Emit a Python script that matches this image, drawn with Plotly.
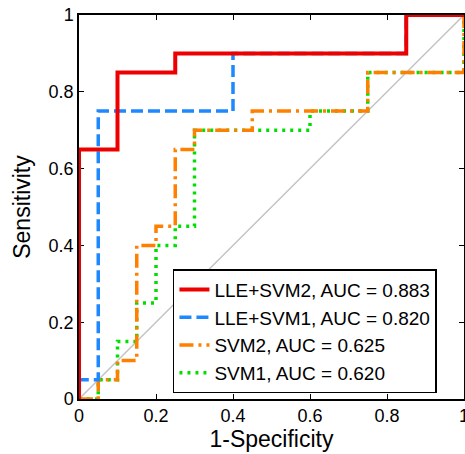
import plotly.graph_objects as go

# ROC curve data (1-Specificity, Sensitivity)
lle_svm2_fpr = [0, 0, 0.1, 0.1, 0.25, 0.25, 0.85, 0.85, 1]
lle_svm2_tpr = [0, 0.65, 0.65, 0.85, 0.85, 0.9, 0.9, 1, 1]

lle_svm1_fpr = [0, 0, 0.05, 0.05, 0.4, 0.4, 0.85, 0.85, 1]
lle_svm1_tpr = [0, 0.05, 0.05, 0.75, 0.75, 0.9, 0.9, 1, 1]

svm2_fpr = [0, 0.05, 0.05, 0.1, 0.1, 0.15, 0.15, 0.2, 0.2, 0.25, 0.25, 0.3, 0.3, 0.45, 0.45, 0.75, 0.75, 1, 1]
svm2_tpr = [0, 0, 0.05, 0.05, 0.1, 0.1, 0.4, 0.4, 0.45, 0.45, 0.65, 0.65, 0.7, 0.7, 0.75, 0.75, 0.85, 0.85, 1]

svm1_fpr = [0, 0.05, 0.05, 0.1, 0.1, 0.15, 0.15, 0.2, 0.2, 0.25, 0.25, 0.3, 0.3, 0.6, 0.6, 0.75, 0.75, 1, 1]
svm1_tpr = [0, 0, 0.05, 0.05, 0.15, 0.15, 0.25, 0.25, 0.4, 0.4, 0.45, 0.45, 0.7, 0.7, 0.75, 0.75, 0.85, 0.85, 1]

chance_x = [0, 1]
chance_y = [0, 1]

names = ["LLE+SVM2, AUC = 0.883", "LLE+SVM1, AUC = 0.820", "SVM2, AUC = 0.625", "SVM1, AUC = 0.620"]
tick_vals = [0, 0.2, 0.4, 0.6, 0.8, 1]
tick_text = ["0", "0.2", "0.4", "0.6", "0.8", "1"]

FONT = "Liberation Sans, Arial, sans-serif"

fig = go.Figure()
fig.add_trace(go.Scatter(x=chance_x, y=chance_y, mode="lines",
                         line=dict(color="#c3c3c3", width=1.5),
                         showlegend=False, hoverinfo="skip", cliponaxis=False))
fig.add_trace(go.Scatter(x=svm1_fpr, y=svm1_tpr, mode="lines", name=names[3],
                         line=dict(color="#00e000", width=3.5, dash="3px,5px"), cliponaxis=False))
fig.add_trace(go.Scatter(x=svm2_fpr, y=svm2_tpr, mode="lines", name=names[2],
                         line=dict(color="#ff8000", width=3.5, dash="14px,5px,3px,5px"), cliponaxis=False))
fig.add_trace(go.Scatter(x=lle_svm1_fpr, y=lle_svm1_tpr, mode="lines", name=names[1],
                         line=dict(color="#1e88ff", width=3.5, dash="12px,5px"), cliponaxis=False))
fig.add_trace(go.Scatter(x=lle_svm2_fpr, y=lle_svm2_tpr, mode="lines", name=names[0],
                         line=dict(color="#ee0000", width=4), cliponaxis=False))

axis_common = dict(
    range=[0, 1], tickvals=tick_vals, ticktext=tick_text,
    ticks="inside", ticklen=5, tickwidth=1, tickcolor="black",
    showline=True, linecolor="black", linewidth=1.5, mirror="allticks",
    showgrid=False, zeroline=False, layer="below traces", automargin=False,
    ticklabeloverflow="allow",
    tickfont=dict(family=FONT, size=18, color="black"),
)

fig.update_layout(
    width=465, height=454,
    margin=dict(l=79, r=1, t=15, b=55),
    paper_bgcolor="white", plot_bgcolor="white",
    font=dict(family=FONT, color="black"),
    xaxis=dict(axis_common, title=dict(text="1-Specificity", font=dict(family=FONT, size=23), standoff=6)),
    yaxis=dict(axis_common, title=dict(text="Sensitivity", font=dict(family=FONT, size=23), standoff=12)),
    legend=dict(
        x=0.244, y=0.015, xanchor="left", yanchor="bottom",
        traceorder="reversed",
        bgcolor="white", bordercolor="black", borderwidth=1.5,
        font=dict(family=FONT, size=19, color="black"),
    ),
    showlegend=True,
)

fig.write_html(
    "out.html",
    config={"displayModeBar": False},
    post_script="document.body.style.margin='0';document.body.style.overflow='hidden';",
)
